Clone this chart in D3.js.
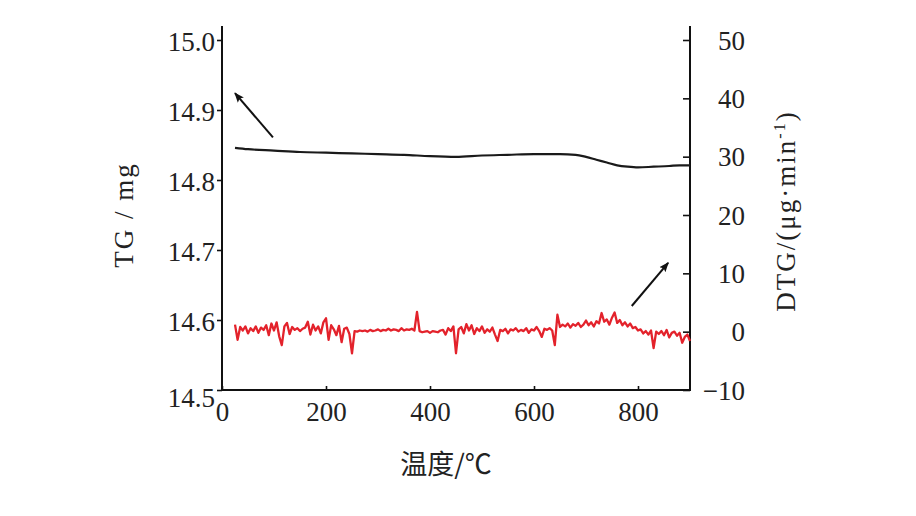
<!DOCTYPE html>
<html>
<head>
<meta charset="utf-8">
<script src="https://cdn.jsdelivr.net/npm/d3@7"></script>
<style>
  html, body { margin: 0; padding: 0; background: #fff; }
  svg { display: block; }
  .tick text { font-family: "Liberation Serif", "Times New Roman", serif; font-size: 27px; fill: #222; }
</style>
</head>
<body>
<svg id="chart" width="916" height="516"></svg>
<script>
// ---------- data ----------
const xTicks = [0, 200, 400, 600, 800];
const tgTicks = [14.5, 14.6, 14.7, 14.8, 14.9, 15.0];
const dtgTicks = [-10, 0, 10, 20, 30, 40, 50];

const tgTemp = [25, 50, 100, 150, 200, 250, 300, 350, 400, 450, 500, 550, 600, 650, 680, 700, 720, 740, 760, 780, 800, 830, 860, 880, 900];
const tgMass = [14.846, 14.844, 14.842, 14.840, 14.839, 14.838, 14.837, 14.836, 14.834, 14.833, 14.835, 14.836, 14.837, 14.837, 14.836, 14.833, 14.829, 14.825, 14.821, 14.819, 14.818, 14.819, 14.820, 14.821, 14.821];

const dtgTemp = [
  25, 30, 35, 40, 45, 50, 55, 60, 65, 70,
  75, 80, 85, 90, 95, 100, 105, 110, 115, 120,
  125, 130, 135, 140, 145, 150, 155, 160, 165, 170,
  175, 180, 185, 190, 195, 200, 205, 210, 215, 220,
  225, 230, 235, 240, 245, 250, 255, 260, 265, 270,
  275, 280, 285, 290, 295, 300, 305, 310, 315, 320,
  325, 330, 335, 340, 345, 350, 355, 360, 365, 370,
  375, 380, 385, 390, 395, 400, 405, 410, 415, 420,
  425, 430, 435, 440, 445, 450, 455, 460, 465, 470,
  475, 480, 485, 490, 495, 500, 505, 510, 515, 520,
  525, 530, 535, 540, 545, 550, 555, 560, 565, 570,
  575, 580, 585, 590, 595, 600, 605, 610, 615, 620,
  625, 630, 635, 640, 645, 650, 655, 660, 665, 670,
  675, 680, 685, 690, 695, 700, 705, 710, 715, 720,
  725, 730, 735, 740, 745, 750, 755, 760, 765, 770,
  775, 780, 785, 790, 795, 800, 805, 810, 815, 820,
  825, 830, 835, 840, 845, 850, 855, 860, 865, 870,
  875, 880, 885, 890, 895, 900
];
const dtgRate = [
  1.2, -1.4, 0.8, 0.2, 0.9, -0.3, 0.6, 0.1, 0.9, -0.2,
  0.7, 0.3, 1.1, -0.6, 1.4, 0.2, 1.6, -0.8, -2.3, 0.9,
  1.5, -0.4, 0.8, 0.3, 0.6, 0.1, 0.5, 0.7, 1.7, -0.5,
  1.2, 0.2, 0.9, -0.3, 1.6, 2.3, -1.4, 1.1, 0.4, -0.6,
  1.0, -1.8, 0.5, 0.7, -0.4, -3.7, 0.1, 0.0, 0.2, 0.1,
  0.2, 0.0, 0.3, 0.1, 0.2, 0.4, 0.1, 0.3, 0.2, 0.5,
  0.2, 0.4, 0.3, 0.1, 0.6, 0.2, 0.4, 0.3, 0.5, 0.2,
  3.4, 0.1, -0.1, 0.0, 0.1, -0.2, 0.1, 0.0, -0.1, 0.2,
  0.3, -0.5, 0.6, 0.1, 0.9, -3.7, 0.4, 0.8, -0.3, 1.3,
  0.2, 1.1, -0.4, 0.6, 0.1, 0.9, -0.2, 0.4, 0.0, 0.7,
  -0.5, -1.6, 0.3, 0.1, 0.5, -0.3, 0.4, 0.2, 0.6, 0.0,
  0.3, 0.1, 0.6, -0.2, 0.4, 0.2, 0.8, 0.1, -0.9, 0.5,
  0.3, 0.6, 0.2, -2.3, 2.9, 0.8, 1.2, 0.9, 1.4, 0.7,
  1.3, 1.0, 1.5, 0.8, 1.2, 1.9, 1.1, 1.6, 0.9, 1.8,
  1.4, 3.2, 1.7, 2.1, 1.2, 2.4, 3.3, 1.5, 2.0, 1.1,
  1.6, 0.9, 1.4, 0.6, 0.8, 0.2, 0.4, -0.3, 0.1, -0.5,
  0.2, -2.8, 0.0, -0.4, 0.1, -0.6, 0.3, -1.0, -0.2, 0.0,
  -0.7, -0.2, -1.9, -0.9, -0.5, -1.6
];

// arrow annotations (data units): from -> to
const tgArrow = { t0: 98, v0: 14.861, t1: 25, v1: 14.924 };
const dtgArrow = { t0: 788, v0: 4.4, t1: 858, v1: 11.8 };

// ---------- layout ----------
const svg = d3.select("#chart");
const mLeft = 222, mRight = 690, mTop = 40, mBottom = 390, axisTop = 27;

const x = d3.scaleLinear().domain([0, 900]).range([mLeft, mRight]);
const yTG = d3.scaleLinear().domain([14.5, 15.0]).range([mBottom, mTop]);
const yDTG = d3.scaleLinear().domain([-10, 50]).range([mBottom, mTop]);

const fmtNeg = d => (d < 0 ? "\u2212" + Math.abs(d) : String(d));

// axes
const gx = svg.append("g").attr("transform", `translate(0,${mBottom})`)
  .call(d3.axisBottom(x).tickValues(xTicks).tickSize(-4).tickPadding(12).tickFormat(d3.format("d")));
const gl = svg.append("g").attr("transform", `translate(${mLeft},0)`)
  .call(d3.axisLeft(yTG).tickValues(tgTicks).tickSize(5).tickPadding(2).tickFormat(d3.format(".1f")));
const gr = svg.append("g").attr("transform", `translate(${mRight},0)`)
  .call(d3.axisRight(yDTG).tickValues(dtgTicks).tickSize(-7).tickFormat(fmtNeg));

[gx, gl, gr].forEach(g => {
  g.select(".domain").remove();
  g.selectAll(".tick line").attr("stroke", "#111").attr("stroke-width", 1.6);
});
gr.selectAll(".tick text").attr("text-anchor", "end").attr("x", 55).attr("dy", "0.34em");
gl.selectAll(".tick text").attr("dy", "0.38em");
gl.selectAll(".tick").filter(d => d === 14.5).select("text").attr("dy", "0.62em");

// axis lines
const axisLines = [
  [mLeft, axisTop, mLeft, mBottom],
  [mRight, axisTop, mRight, mBottom],
  [mLeft, mBottom, mRight, mBottom]
];
svg.append("g").selectAll("line").data(axisLines).join("line")
  .attr("x1", d => d[0]).attr("y1", d => d[1]).attr("x2", d => d[2]).attr("y2", d => d[3])
  .attr("stroke", "#111").attr("stroke-width", 2).attr("stroke-linecap", "square");

// TG line
const tgData = tgTemp.map((t, i) => [t, tgMass[i]]);
svg.append("path").datum(tgData)
  .attr("fill", "none").attr("stroke", "#1a1a1a").attr("stroke-width", 2.2)
  .attr("d", d3.line().x(d => x(d[0])).y(d => yTG(d[1])).curve(d3.curveMonotoneX));

// DTG line
const dtgData = dtgTemp.map((t, i) => [t, dtgRate[i]]);
svg.append("path").datum(dtgData)
  .attr("fill", "none").attr("stroke", "#e3222b").attr("stroke-width", 2.3).attr("stroke-linejoin", "round")
  .attr("d", d3.line().x(d => x(d[0])).y(d => yDTG(d[1])));

// arrows
svg.append("defs").append("marker")
  .attr("id", "ah").attr("viewBox", "0 0 10 10").attr("refX", 9).attr("refY", 5)
  .attr("markerWidth", 5).attr("markerHeight", 5).attr("markerUnits", "strokeWidth").attr("orient", "auto")
  .append("path").attr("d", "M0,1 L10,5 L0,9 L2,5 Z").attr("fill", "#111");

svg.append("line")
  .attr("x1", x(tgArrow.t0)).attr("y1", yTG(tgArrow.v0)).attr("x2", x(tgArrow.t1)).attr("y2", yTG(tgArrow.v1))
  .attr("stroke", "#111").attr("stroke-width", 2).attr("marker-end", "url(#ah)");
svg.append("line")
  .attr("x1", x(dtgArrow.t0)).attr("y1", yDTG(dtgArrow.v0)).attr("x2", x(dtgArrow.t1)).attr("y2", yDTG(dtgArrow.v1))
  .attr("stroke", "#111").attr("stroke-width", 2).attr("marker-end", "url(#ah)");

// axis titles
svg.append("text")
  .attr("transform", `translate(133,215) rotate(-90)`)
  .attr("text-anchor", "middle")
  .style("font-family", "'Liberation Serif', serif").style("font-size", "27px").style("fill", "#222")
  .style("letter-spacing", "2px")
  .text("TG / mg");

const dt = svg.append("text")
  .attr("transform", `translate(795,211) rotate(-90)`)
  .attr("text-anchor", "middle")
  .style("font-family", "'Liberation Serif', serif").style("font-size", "27px").style("fill", "#222")
  .style("letter-spacing", "2px");
dt.append("tspan").text("DTG/(\u03bcg\u00b7min");
dt.append("tspan").attr("dy", "-10").style("font-size", "16px").text("-1");
dt.append("tspan").attr("dy", "10").text(")");

svg.append("text")
  .attr("x", 446).attr("y", 474)
  .attr("text-anchor", "middle")
  .style("font-family", "'Noto Sans CJK SC', sans-serif").style("font-size", "27px").style("fill", "#222")
  .text("温度/℃");
</script>
</body>
</html>
